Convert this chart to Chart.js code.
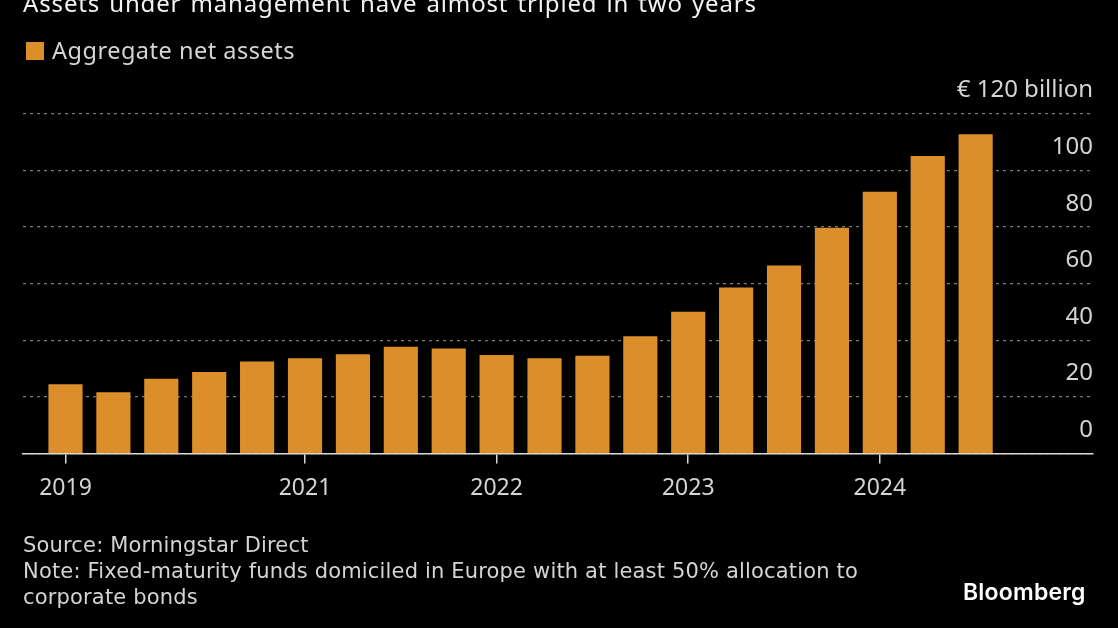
<!DOCTYPE html>
<html>
<head>
<meta charset="utf-8">
<script src="https://cdn.jsdelivr.net/npm/chart.js@4"></script>
<style>
  html, body { margin: 0; padding: 0; background: #000; overflow: hidden; }
  #wrap { position: relative; width: 1118px; height: 628px; overflow: hidden; }
  #chart { position: absolute; left: 0; top: 0; }
  .txt { position: absolute; white-space: nowrap; color: #d4d4d4; font-family: "Noto Sans", sans-serif; }
  #title { left: 23px; top: -13px; font-size: 24px; line-height: 32px; color: #f2f2f2; letter-spacing: 0.85px; word-spacing: 2px; }
  #swatch { position: absolute; left: 26px; top: 42px; width: 18px; height: 18px; background: #dc8e2a; }
  #legend { left: 52px; top: 34px; font-size: 23.5px; line-height: 32px; letter-spacing: 0.5px; }
  #notes { left: 23px; top: 532px; font-size: 21px; line-height: 26px; font-family: "DejaVu Sans", sans-serif; letter-spacing: 0.17px; }
  #logo { left: 963px; top: 576px; font-size: 23px; line-height: 32px; font-weight: 600; color: #fff; font-family: Inter, sans-serif; letter-spacing: 0.2px; }
</style>
</head>
<body>
<div id="wrap">
  <canvas id="chart" width="1118" height="628"></canvas>
  <div class="txt" id="title">Assets under management have almost tripled in two years</div>
  <div id="swatch"></div>
  <div class="txt" id="legend">Aggregate net assets</div>
  <div class="txt" id="notes">Source: Morningstar Direct<br>Note: Fixed-maturity funds domiciled in Europe with at least 50% allocation to<br>corporate bonds</div>
  <div class="txt" id="logo">Bloomberg</div>
</div>
<script>
// Quarterly periods, one per bar
const periods = ['2019 Q4', '2020 Q1', '2020 Q2', '2020 Q3', '2020 Q4',
    '2021 Q1', '2021 Q2', '2021 Q3', '2021 Q4',
    '2022 Q1', '2022 Q2', '2022 Q3', '2022 Q4',
    '2023 Q1', '2023 Q2', '2023 Q3', '2023 Q4',
    '2024 Q1', '2024 Q2', '2024 Q3'];
// Aggregate net assets, EUR billion
const netAssets = [24.3, 21.5, 26.3, 28.7, 32.4, 33.5, 34.9, 37.6, 37, 34.7,
    33.5, 34.4, 41.3, 50, 58.5, 66.3, 79.7, 92.4, 105, 112.7];
const yearTicks = [0, 5, 9, 13, 17];
const yearLabels = ['2019', '2021', '2022', '2023', '2024'];
const valueTicks = [0, 20, 40, 60, 80, 100, 120];
const valueLabels = ['0', '20', '40', '60', '80', '100', '€ 120 billion'];

const ctx = document.getElementById('chart').getContext('2d');
new Chart(ctx, {
    type: 'bar',
    data: {
        datasets: [{
            label: 'Aggregate net assets',
            data: netAssets.map((v, i) => ({ x: i, y: v, period: periods[i] })),
            backgroundColor: '#dc8e2a',
            barThickness: 33.5
        }]
    },
    options: {
        responsive: false,
        animation: false,
        layout: { padding: { left: 23, right: 25, top: 114, bottom: 115 } },
        plugins: { legend: { display: false }, title: { display: false }, tooltip: { enabled: false } },
        scales: {
            x: {
                type: 'linear',
                offset: false,
                min: -0.887,
                max: 21.45,
                afterBuildTicks: scale => { scale.ticks = yearTicks.map(v => ({ value: v })); },
                grid: { offset: false, drawOnChartArea: false, drawTicks: true, tickLength: 10, color: '#d8d8d8', lineWidth: 1.5 },
                border: { display: true, color: '#d8d8d8', width: 1.5 },
                ticks: {
                    autoSkip: false,
                    maxRotation: 0,
                    padding: 11,
                    color: '#d4d4d4',
                    font: { family: '"Noto Sans", sans-serif', size: 23 },
                    callback: value => yearLabels[yearTicks.indexOf(value)]
                }
            },
            y: {
                position: 'right',
                min: 0,
                max: 120,
                afterBuildTicks: scale => { scale.ticks = valueTicks.map(v => ({ value: v })); },
                grid: { color: '#7a7a7a', lineWidth: 1.3, drawTicks: false },
                border: { display: false, dash: [3, 4] },
                ticks: {
                    autoSkip: false,
                    mirror: true,
                    padding: 0,
                    color: '#d4d4d4',
                    font: { family: '"Noto Sans", sans-serif', size: 24, lineHeight: 1.95 },
                    // empty second line lifts the label above its gridline
                    callback: value => [valueLabels[valueTicks.indexOf(value)], '']
                }
            }
        }
    }
});
</script>
</body>
</html>
